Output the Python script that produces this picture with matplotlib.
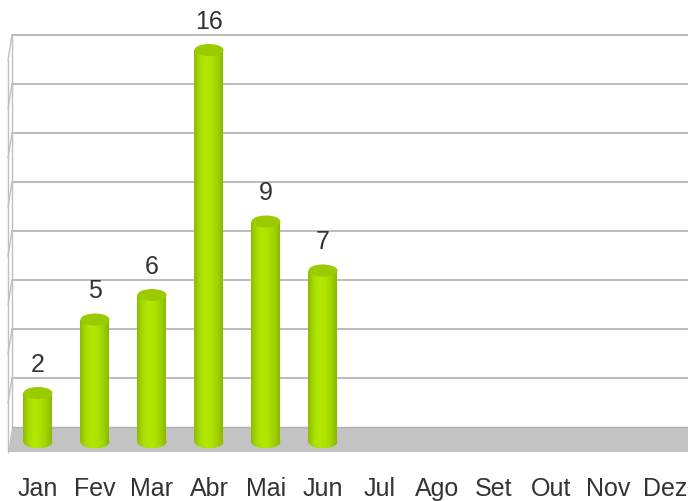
import numpy as np
import matplotlib.pyplot as plt
from matplotlib.patches import Polygon, Ellipse, Rectangle
from matplotlib.colors import LinearSegmentedColormap

plt.rcParams['font.family'] = ['Liberation Sans', 'DejaVu Sans']

months = ['Jan', 'Fev', 'Mar', 'Abr', 'Mai', 'Jun', 'Jul', 'Ago', 'Set', 'Out', 'Nov', 'Dez']
values = [2, 5, 6, 16, 9, 7]
grid_ticks = [0, 2, 4, 6, 8, 10, 12, 14, 16]

# pixel scale: 57 px per category, 24.5 px per unit
xs = 57.0
ys = 24.5
fig = plt.figure(figsize=(6.88, 5.02), dpi=100)
ax = fig.add_axes([0, 0, 1, 1])
ax.set_xlim(-38 / xs, (688 - 38) / xs)
ax.set_ylim((428 - 502) / ys, 428 / ys)
ax.axis('off')

# depth of the 3d box (data units)
ddx = -4 / xs
ddy = -25 / ys
left = -26 / xs
right = 12

grid_col = '#a9a9a9'
# floor
floor = Polygon([(left, 0), (right, 0), (right + ddx, ddy), (left + ddx, ddy)],
                closed=True, facecolor='#c3c3c3', edgecolor='none', zorder=1)
ax.add_patch(floor)
ax.plot([left, right], [0, 0], color='#b0b0b0', lw=1, zorder=2)

# back wall grid + side wall
for g in grid_ticks[1:]:
    ax.plot([left, right], [g, g], color=grid_col, lw=1.1, zorder=1)
    ax.plot([left, left + ddx], [g, g + ddy], color='#c0c0c0', lw=1, zorder=1)
ax.plot([left, left], [0, 16], color='#c0c0c0', lw=1, zorder=1)
ax.plot([left + ddx, left + ddx], [ddy, 16 + ddy], color='#c0c0c0', lw=1, zorder=1)

# cylinders
cmap = LinearSegmentedColormap.from_list('cyl', ['#8cbc00', '#a8dc00', '#b4e800', '#aee200', '#a0d400', '#8aba00'])
grad = np.linspace(0, 1, 64).reshape(1, -1)
bw = 29 / xs
eh = 12 / ys
off = 0.6 * ddy
for i, v in enumerate(values):
    x0 = i - bw / 2
    yb = off
    yt = v + off
    body = Rectangle((x0, yb), bw, yt - yb, facecolor='none', edgecolor='none')
    ax.add_patch(body)
    im = ax.imshow(grad, cmap=cmap, extent=(x0, x0 + bw, yb, yt), aspect='auto', zorder=3)
    im.set_clip_path(body)
    bot = Ellipse((i, yb), bw, eh, facecolor='#9ccf00', edgecolor='none', zorder=2.9)
    ax.add_patch(bot)
    im2 = ax.imshow(grad, cmap=cmap, extent=(x0, x0 + bw, yb - eh / 2, yb + eh / 2), aspect='auto', zorder=2.95)
    im2.set_clip_path(bot)
    top = Ellipse((i, yt), bw, eh, facecolor='#9acb00', edgecolor='none', zorder=4)
    ax.add_patch(top)
    ax.text(i, v + 0.58, str(v), ha='center', va='center', fontsize=18, color='#333333', zorder=5)

for i, m in enumerate(months):
    ax.text(i, (428 - 489) / ys, m, ha='center', va='center', fontsize=18, color='#333333')

fig.savefig('out.png', dpi=100)
